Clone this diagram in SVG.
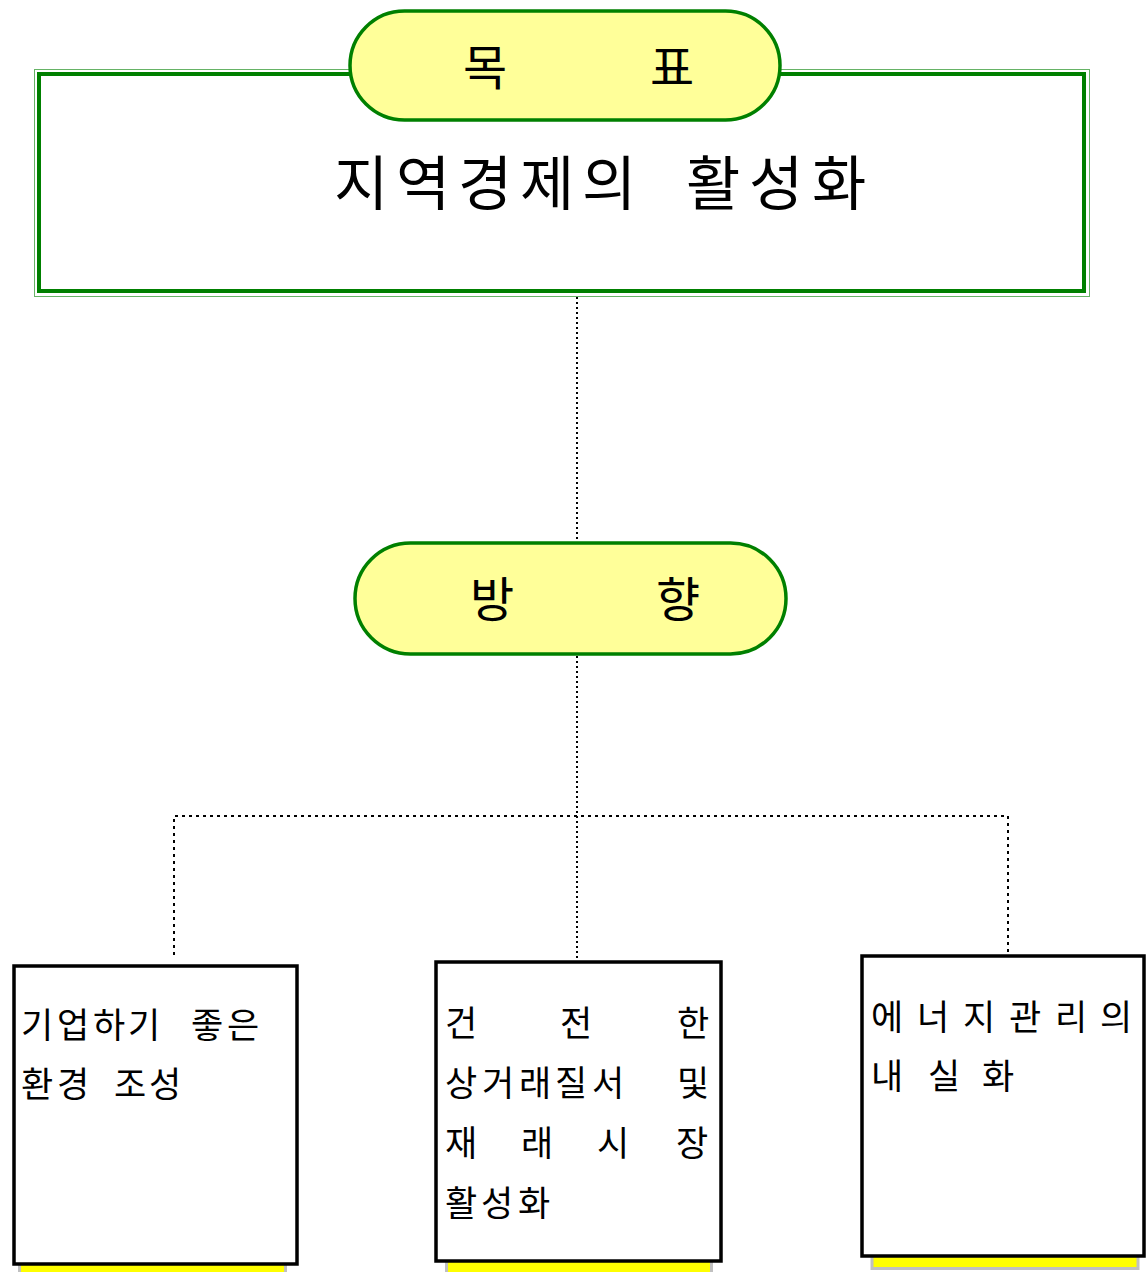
<svg xmlns="http://www.w3.org/2000/svg" width="1146" height="1272" viewBox="0 0 1146 1272">
<style>
.pill{fill:#ffff99;stroke:#008000;stroke-width:3.5}
.box{fill:#ffffff;stroke:#000000;stroke-width:3.5}
.shadow{fill:#ffff00;stroke:#c0c0c0;stroke-width:3}
.dot{fill:none;stroke:#000000;stroke-width:2;stroke-dasharray:2 3;shape-rendering:crispEdges}
.dot2{fill:none;stroke:#000000;stroke-width:2;stroke-dasharray:3 4;shape-rendering:crispEdges}
.t{font-family:"Noto Sans CJK KR","Noto Sans",sans-serif;fill:#000000}
.big{font-size:59px}
.head{font-size:48px}
.small{font-size:35px}
</style>
<rect width="1146" height="1272" fill="#ffffff"/>
<g id="connectors">
<line class="dot" x1="577" y1="297" x2="577" y2="542"/>
<line class="dot" x1="577" y1="656" x2="577" y2="960"/>
<polyline class="dot2" points="174,955 174,816 1008,816 1008,953"/>
</g>
<g id="goal-box">
<rect x="34.5" y="69.5" width="1055" height="227" fill="none" stroke="#008000" stroke-width="1" stroke-opacity="0.6"/>
<rect x="39" y="74" width="1045" height="217" fill="#ffffff" stroke="#008000" stroke-width="4"/>
<text class="t big" x="334 396 458 520 582 640 686 749 812" y="205">지역경제의 활성화</text>
</g>
<g id="goal-label">
<rect class="pill" x="350" y="11" width="430" height="109" rx="54.5"/>
<text class="t head" x="485" y="85" text-anchor="middle">목</text>
<text class="t head" x="672" y="85" text-anchor="middle">표</text>
</g>
<g id="direction-label">
<rect class="pill" x="355" y="543" width="431" height="111" rx="55.5"/>
<text class="t head" x="492" y="617" text-anchor="middle">방</text>
<text class="t head" x="678" y="617" text-anchor="middle">향</text>
</g>
<g id="node1">
<rect class="shadow" x="19.5" y="1000" width="266" height="300"/>
<rect class="box" x="14" y="966" width="283" height="298"/>
<text class="t small" x="21 57 93 128 162 191 227" y="1038">기업하기 좋은</text>
<text class="t small" x="21 57 92 114 149" y="1097">환경 조성</text>
</g>
<g id="node2">
<rect class="shadow" x="446.5" y="1000" width="265" height="300"/>
<rect class="box" x="436" y="962" width="285" height="299"/>
<text class="t small" x="445 560 677" y="1036">건전한</text>
<text class="t small" x="445 482 519 555 592 640 677" y="1096">상거래질서 및</text>
<text class="t small" x="445 521 597 676" y="1156">재래시장</text>
<text class="t small" x="445 481 518" y="1216">활성화</text>
</g>
<g id="node3">
<rect class="shadow" x="872" y="1000" width="266" height="268.5"/>
<rect class="box" x="862" y="956" width="282" height="300"/>
<text class="t small" x="871 917 963 1009 1055 1100" y="1030">에너지관리의</text>
<text class="t small" x="871 928 982" y="1089">내실화</text>
</g>
</svg>
